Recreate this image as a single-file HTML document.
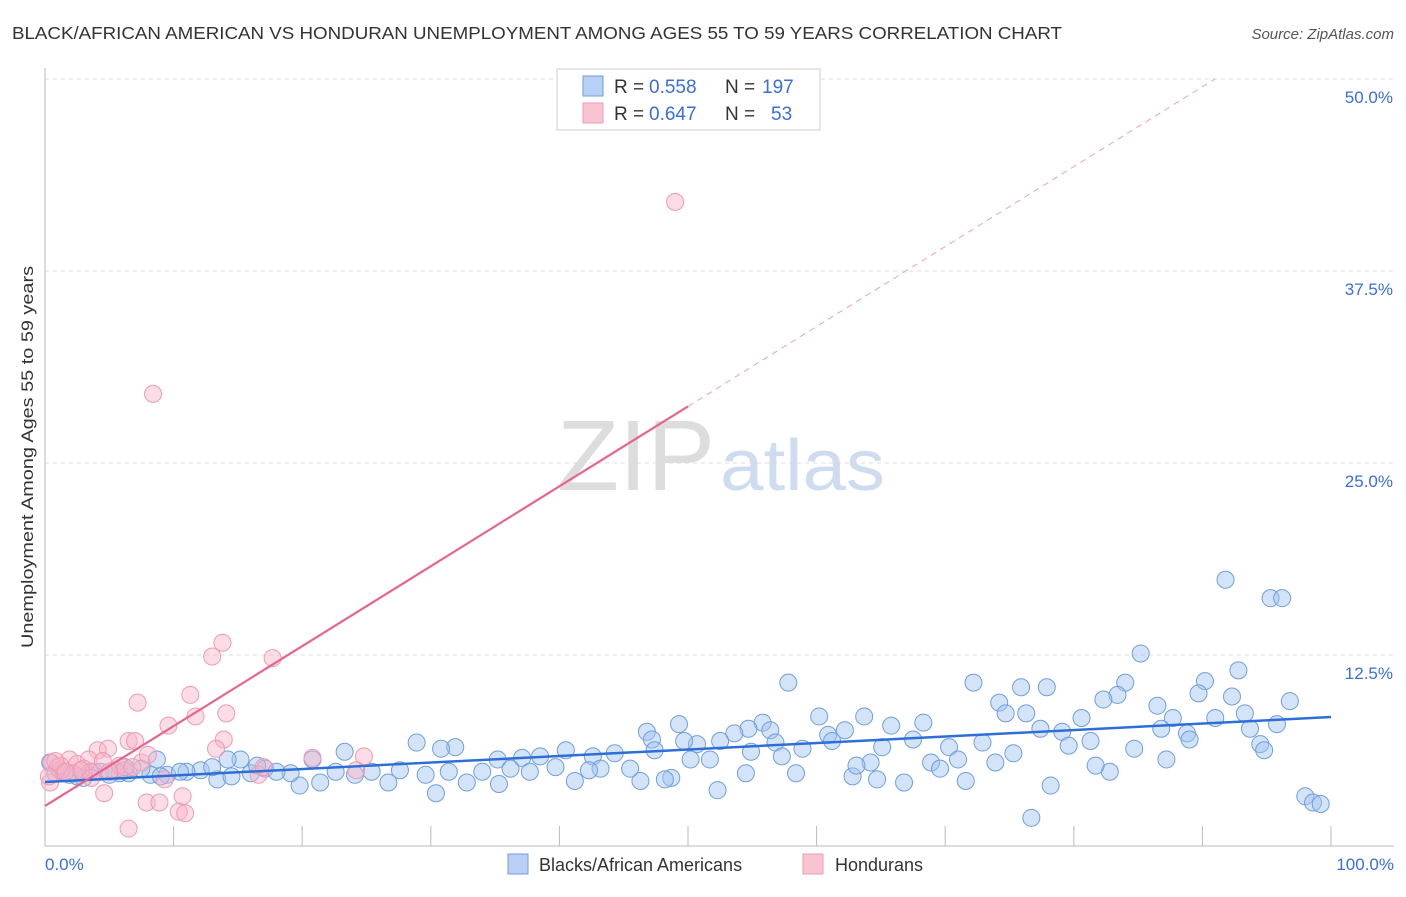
<!DOCTYPE html>
<html><head><meta charset="utf-8"><style>
body{margin:0;background:#fff;font-family:"Liberation Sans",sans-serif}
svg text{font-family:"Liberation Sans",sans-serif}
</style></head><body>
<svg id="chart" width="1406" height="892">
<text x="12" y="39" font-size="17.5" fill="#333" textLength="1050" lengthAdjust="spacingAndGlyphs">BLACK/AFRICAN AMERICAN VS HONDURAN UNEMPLOYMENT AMONG AGES 55 TO 59 YEARS CORRELATION CHART</text>
<text x="1394" y="39" font-size="15" fill="#555" font-style="italic" text-anchor="end">Source: ZipAtlas.com</text>
<text x="0" y="0" transform="translate(33,457) rotate(-90)" font-size="17" fill="#333" text-anchor="middle" textLength="382" lengthAdjust="spacingAndGlyphs">Unemployment Among Ages 55 to 59 years</text>
<text x="715" y="490" font-size="100" fill="#ddd" text-anchor="end" font-family="Liberation Serif" textLength="158" lengthAdjust="spacingAndGlyphs">ZIP</text>
<text x="720" y="490" font-size="72" fill="#cfdcf0" textLength="165" lengthAdjust="spacingAndGlyphs">atlas</text>
<g id="grid"></g><g id="marks"></g>
<g>
<rect x="557" y="69" width="263" height="61" fill="#fff" stroke="#ccc"/>
<rect x="583" y="76" width="20" height="20" fill="#b8d0f3" stroke="#6f9ee0"/>
<rect x="583" y="103" width="20" height="20" fill="#f9c4d2" stroke="#ee9ab3"/>
<text x="614" y="93" font-size="19" fill="#333">R =</text>
<text x="649" y="93" font-size="19" fill="#3a6fd8">0.558</text>
<text x="725" y="93" font-size="19" fill="#333">N =</text>
<text x="762" y="93" font-size="19" fill="#3a6fd8">197</text>
<text x="614" y="120" font-size="19" fill="#333">R =</text>
<text x="649" y="120" font-size="19" fill="#3a6fd8">0.647</text>
<text x="725" y="120" font-size="19" fill="#333">N =</text>
<text x="771" y="120" font-size="19" fill="#3a6fd8">53</text>
</g>
<g>
<rect x="508" y="854" width="20" height="20" fill="#b8d0f3" stroke="#6f9ee0"/>
<text x="539" y="871" font-size="18" fill="#333">Blacks/African Americans</text>
<rect x="803" y="854" width="20" height="20" fill="#f9c4d2" stroke="#ee9ab3"/>
<text x="835" y="871" font-size="18" fill="#333">Hondurans</text>
</g>
<text x="45" y="870" font-size="17" fill="#3a6fd8">0.0%</text>
<text x="1394" y="870" font-size="17" fill="#3a6fd8" text-anchor="end">100.0%</text>
</svg>
<script>
const yTicks=[12.5,25,37.5,50];
const yTickLabels=["12.5%","25.0%","37.5%","50.0%"];
const xTicks=[0,10,20,30,40,50,60,70,80,90,100];
const blueX=[91.8,95.3,96.2,85.2,92.8,57.8,72.2,75.9,77.9,90.2,84,83.4,74.2,89.7,92.3,96.8,82.3,86.5,93.3,74.7,76.3,80.6,91,87.7,95.8,63.7,60.2,68.3,65.8,55.8,49.3,46.8,54.7,56.4,62.2,77.4,79.1,86.8,88.8,93.7,53.6,89,94.5,94.8,79.6,81.3,84.7,72.9,70.3,67.5,65.1,60.9,61.2,58.9,56.8,50.7,49.7,47.2,52.5,47.4,44.3,42.6,40.5,38.5,37.1,35.2,31.9,30.8,28.9,23.3,20.8,15.2,14.2,8.7,98,98.6,99.2,76.7,78.2,52.3,71.6,66.8,64.7,62.8,58.4,54.5,48.7,48.2,46.3,41.2,35.3,32.8,30.4,26.7,21.4,19.8,13.4,82.8,81.7,87.2,75.3,73.9,68.9,69.6,71,64.2,63.1,57.3,54.9,51.7,50.2,45.5,43.2,42.3,39.7,37.7,36.2,34,31.4,29.6,27.6,25.4,24.1,22.6,19.1,17.1,16,12.1,11,8.2,5.8,4.3,1.9,0.8,0.4,2.5,3.5,5,6.5,7.5,9.5,10.5,13,14.5,16.5,18,1.2,3,6.2,9];
const blueY=[17.4,16.2,16.2,12.6,11.5,10.7,10.7,10.4,10.4,10.8,10.7,9.9,9.4,10,9.8,9.5,9.6,9.2,8.7,8.7,8.7,8.4,8.4,8.4,8,8.5,8.5,8.1,7.9,8.1,8,7.5,7.7,7.6,7.6,7.7,7.5,7.7,7.4,7.7,7.4,7,6.7,6.3,6.6,6.9,6.4,6.8,6.5,7,6.5,7.3,6.9,6.4,6.8,6.7,6.9,7,6.9,6.3,6.1,5.9,6.3,5.9,5.8,5.7,6.5,6.4,6.8,6.2,5.7,5.7,5.7,5.7,3.3,2.9,2.8,1.9,4,3.7,4.3,4.2,4.4,4.6,4.8,4.8,4.5,4.4,4.3,4.3,4.1,4.2,3.5,4.2,4.2,4,4.4,4.9,5.3,5.7,6.1,5.5,5.5,5.1,5.7,5.5,5.3,5.9,6.2,5.7,5.7,5.1,5.1,5,5.2,4.9,5.1,4.9,4.9,4.7,5,4.9,4.7,4.9,4.8,5.1,4.8,5,4.9,4.7,4.8,4.9,4.7,4.8,5.5,4.6,4.9,4.7,4.8,5.1,4.7,4.9,5.2,4.6,5.3,4.9,5,4.5,5.2,4.6];
const pinkX=[49,8.4,13.8,13,17.7,11.3,7.2,14.1,11.7,9.6,13.9,6.5,7,13.3,4.1,4.9,20.8,24.8,7.5,3.4,1.9,4.6,9.3,10.7,7.9,8.9,10.4,10.9,6.5,16.6,24.2,0.4,5.4,0.5,1,1.5,2.5,3,3.8,4.5,5.8,6.2,0.3,1.2,2.2,2.8,0.8,3.6,5,6.8,8,1.6,17];
const pinkY=[42,29.5,13.3,12.4,12.3,9.9,9.4,8.7,8.5,7.9,7,6.9,6.9,6.4,6.3,6.4,5.8,5.9,5.5,5.7,5.7,3.5,4.4,3.3,2.9,2.9,2.3,2.2,1.2,4.7,5,4.2,5,5.5,5.2,4.8,5.4,5.1,4.9,5.6,5.3,5,4.6,5.3,4.8,5,5.6,4.5,4.9,5.2,6,4.9,5.2];
const blueTrend=[4.23,8.46];   // y at x=0 and x=100
const pinkTrend=[2.67,54.7];   // y at x=0 and x=100 (extrapolated)
const NS="http://www.w3.org/2000/svg";
const X=v=>45+v*12.86, Y=v=>847-v*15.36;
function mk(tag,attrs,parent){const e=document.createElementNS(NS,tag);for(const k in attrs)e.setAttribute(k,attrs[k]);parent.appendChild(e);return e;}
const grid=document.getElementById('grid'),marks=document.getElementById('marks');
yTicks.forEach((t,i)=>{
 const l=mk('line',{x1:45,x2:1394,y1:Y(t),y2:Y(t),stroke:'#ddd','stroke-dasharray':'4,4'},grid);
 
 
 const tx=mk('text',{x:1393,y:Y(t)+24,'font-size':17,fill:'#3a6fd8','text-anchor':'end'},grid);
 tx.textContent=yTickLabels[i];
 
 
});
const ax=mk('path',{d:'M45,68 V846 H1394',stroke:'#bbb',fill:'none'},grid);


xTicks.forEach(t=>{
 const l=mk('line',{x1:X(t),x2:X(t),y1:826,y2:846,stroke:'#bbb'},grid);
 
 
});
blueX.forEach((x,i)=>{
 const c=mk('circle',{cx:X(x),cy:Y(blueY[i]),r:8.5,fill:'rgba(160,195,240,0.45)',stroke:'#6f9ee0','stroke-width':1},marks);
 
 
});
pinkX.forEach((x,i)=>{
 const c=mk('circle',{cx:X(x),cy:Y(pinkY[i]),r:8.5,fill:'rgba(248,180,200,0.45)',stroke:'#ee9ab3','stroke-width':1},marks);
 
 
});
const pAt=x=>pinkTrend[0]+(pinkTrend[1]-pinkTrend[0])*x/100;
const bt=mk('line',{x1:X(0),y1:Y(blueTrend[0]),x2:X(100),y2:Y(blueTrend[1]),stroke:'#2d6fd6','stroke-width':2.5},marks);


const pt=mk('line',{x1:X(0),y1:Y(pAt(0)),x2:X(50),y2:Y(pAt(50)),stroke:'#e8648d','stroke-width':2.2},marks);


const pd=mk('line',{x1:X(50),y1:Y(pAt(50)),x2:X(91),y2:Y(pAt(91)),stroke:'#eea0b8','stroke-width':1,'stroke-dasharray':'6,5'},marks);


</script>
</body></html>
